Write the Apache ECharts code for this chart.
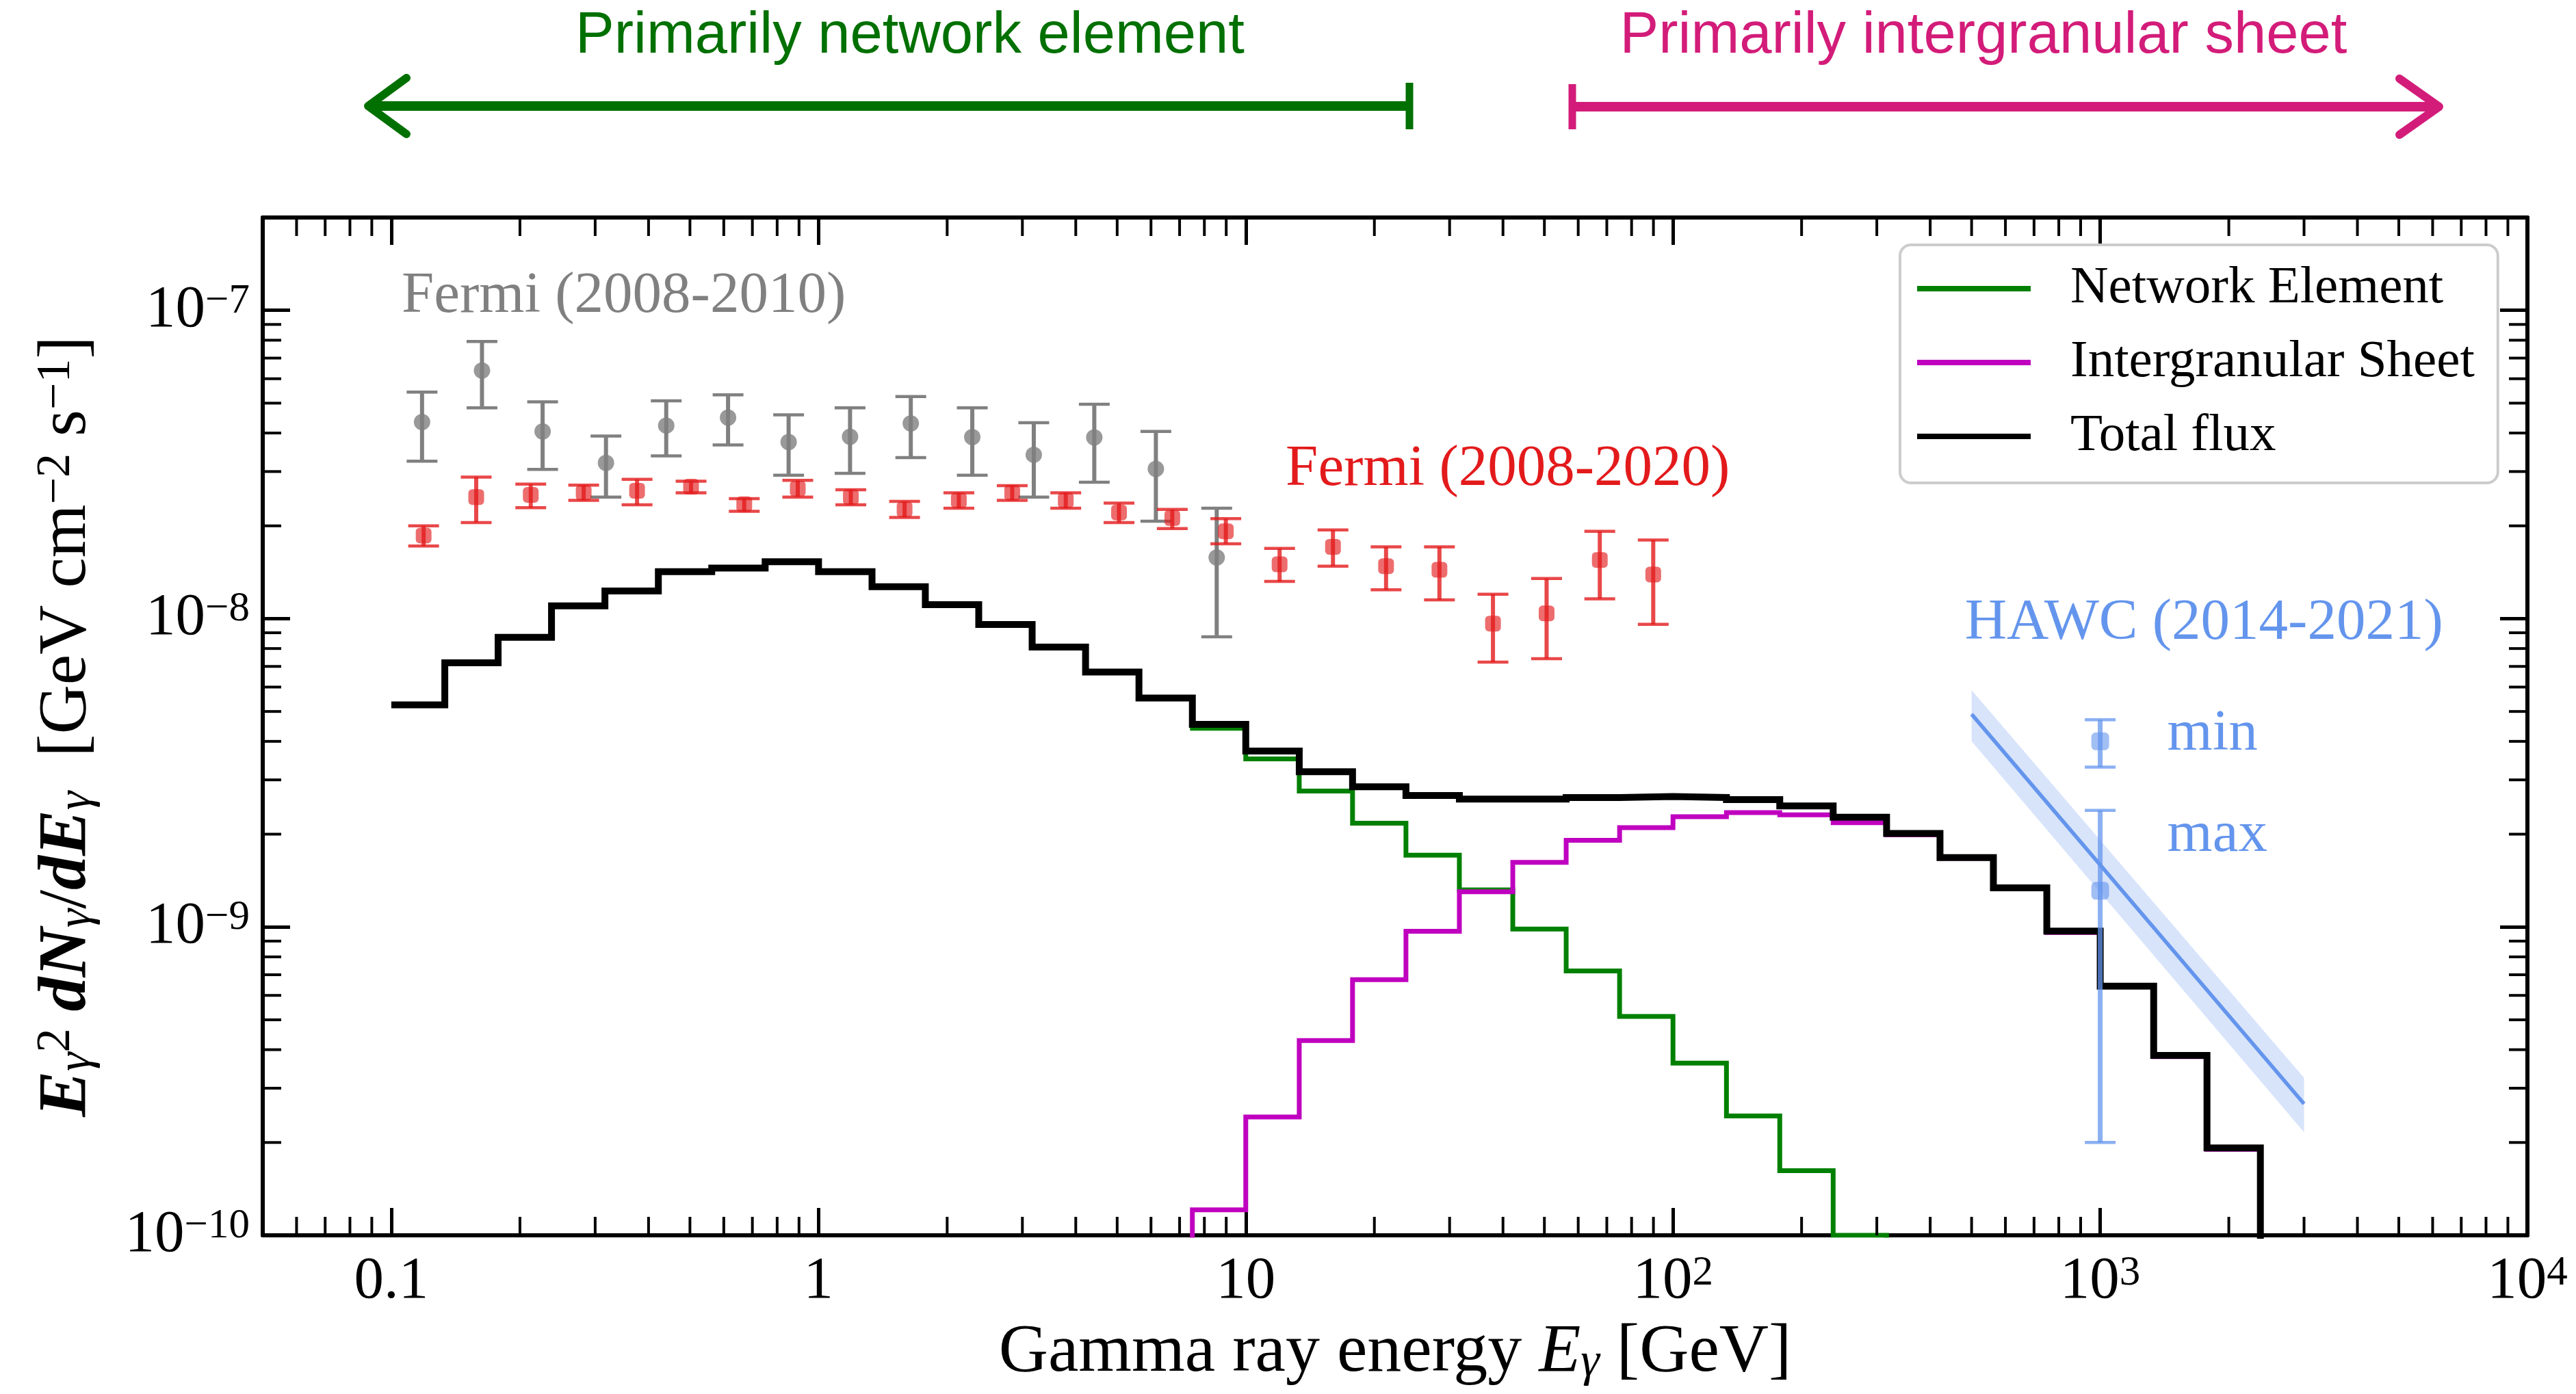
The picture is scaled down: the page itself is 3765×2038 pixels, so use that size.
<!DOCTYPE html>
<html>
<head>
<meta charset="utf-8">
<script src="https://cdn.jsdelivr.net/npm/echarts@6/dist/echarts.min.js"></script>
<style>
  html, body { margin: 0; padding: 0; background: #ffffff; }
  #chart { width: 3765px; height: 2038px; }
</style>
</head>
<body>
<div id="chart"></div>
<script>
// ---------------------------------------------------------------------------
// Data
// ---------------------------------------------------------------------------

// Histogram bin edges in GeV (eight bins per decade)
const binEdges = [
  0.1, 0.1334, 0.1778, 0.2371, 0.3162, 0.4217, 0.5623, 0.7499,
  1, 1.334, 1.778, 2.371, 3.162, 4.217, 5.623, 7.499,
  10, 13.34, 17.78, 23.71, 31.62, 42.17, 56.23, 74.99,
  100, 133.4, 177.8, 237.1, 316.2, 421.7, 562.3, 749.9,
  1000, 1334, 1778, 2371, 3162
];

// E^2 dN/dE per bin [GeV cm^-2 s^-1]
const totalFlux = [
  5.25e-9, 7.19e-9, 8.7e-9, 1.10e-8, 1.23e-8, 1.42e-8, 1.46e-8, 1.53e-8,
  1.42e-8, 1.27e-8, 1.11e-8, 9.57e-9, 8.09e-9, 6.71e-9, 5.53e-9, 4.54e-9,
  3.72e-9, 3.19e-9, 2.85e-9, 2.67e-9, 2.60e-9, 2.60e-9, 2.63e-9, 2.65e-9,
  2.63e-9, 2.59e-9, 2.47e-9, 2.27e-9, 2.01e-9, 1.68e-9, 1.34e-9, 9.7e-10,
  6.43e-10, 3.83e-10, 1.92e-10, 6e-11
];
const networkFlux = [
  5.25e-9, 7.19e-9, 8.7e-9, 1.10e-8, 1.23e-8, 1.42e-8, 1.46e-8, 1.53e-8,
  1.42e-8, 1.27e-8, 1.11e-8, 9.57e-9, 8.09e-9, 6.71e-9, 5.53e-9, 4.41e-9,
  3.51e-9, 2.76e-9, 2.17e-9, 1.71e-9, 1.32e-9, 9.85e-10, 7.2e-10, 5.13e-10,
  3.62e-10, 2.44e-10, 1.62e-10, 1.0e-10, 4e-11
];
const sheetFlux = [
  null, null, null, null, null, null, null, null,
  null, null, null, null, null, null, 5e-11, 1.21e-10,
  2.42e-10, 4.28e-10, 6.75e-10, 9.68e-10, 1.30e-9, 1.62e-9, 1.91e-9, 2.10e-9,
  2.28e-9, 2.35e-9, 2.31e-9, 2.18e-9, 1.99e-9, 1.67e-9, 1.33e-9, 9.6e-10,
  6.4e-10, 3.8e-10, 1.9e-10, 6e-11
];

// Fermi-LAT 2008-2010
const fermi10E    = [0.118, 0.163, 0.226, 0.318, 0.440, 0.614, 0.851, 1.185, 1.644, 2.29, 3.19, 4.42, 6.16, 8.55];
const fermi10Flux = [4.34e-8, 6.38e-8, 4.05e-8, 3.20e-8, 4.23e-8, 4.49e-8, 3.74e-8, 3.89e-8, 4.30e-8, 3.88e-8, 3.40e-8, 3.87e-8, 3.06e-8, 1.58e-8];
const fermi10Lo   = [3.24e-8, 4.83e-8, 3.05e-8, 2.48e-8, 3.37e-8, 3.66e-8, 2.92e-8, 2.96e-8, 3.33e-8, 2.92e-8, 2.48e-8, 2.77e-8, 2.07e-8, 8.73e-9];
const fermi10Hi   = [5.43e-8, 7.92e-8, 5.05e-8, 3.91e-8, 5.09e-8, 5.32e-8, 4.58e-8, 4.83e-8, 5.25e-8, 4.83e-8, 4.32e-8, 4.96e-8, 4.05e-8, 2.28e-8];

// Fermi-LAT 2008-2020
const fermi20E    = [0.119, 0.158, 0.212, 0.282, 0.376, 0.503, 0.670, 0.894, 1.19, 1.59, 2.13, 2.84,
                     3.79, 5.05, 6.73, 8.98, 12.0, 16.0, 21.3, 28.4, 37.9, 50.6, 67.4, 89.9];
const fermi20Flux = [1.86e-8, 2.48e-8, 2.52e-8, 2.56e-8, 2.60e-8, 2.68e-8, 2.35e-8, 2.64e-8, 2.48e-8, 2.26e-8, 2.42e-8, 2.56e-8,
                     2.42e-8, 2.21e-8, 2.12e-8, 1.92e-8, 1.50e-8, 1.71e-8, 1.48e-8, 1.44e-8, 9.64e-9, 1.04e-8, 1.55e-8, 1.39e-8];
const fermi20Lo   = [1.72e-8, 2.05e-8, 2.29e-8, 2.42e-8, 2.34e-8, 2.56e-8, 2.23e-8, 2.48e-8, 2.34e-8, 2.13e-8, 2.28e-8, 2.42e-8,
                     2.28e-8, 2.05e-8, 1.96e-8, 1.75e-8, 1.32e-8, 1.48e-8, 1.24e-8, 1.15e-8, 7.23e-9, 7.42e-9, 1.16e-8, 9.58e-9];
const fermi20Hi   = [2.00e-8, 2.88e-8, 2.73e-8, 2.71e-8, 2.83e-8, 2.79e-8, 2.45e-8, 2.81e-8, 2.62e-8, 2.40e-8, 2.56e-8, 2.70e-8,
                     2.56e-8, 2.37e-8, 2.26e-8, 2.11e-8, 1.69e-8, 1.94e-8, 1.71e-8, 1.71e-8, 1.20e-8, 1.35e-8, 1.92e-8, 1.80e-8];

// HAWC 2014-2021: two flux points at 1 TeV and the power-law fit with its band
const hawcE      = [1000, 1000];
const hawcFlux   = [4.0e-9, 1.31e-9];
const hawcLo     = [3.30e-9, 2.0e-10];
const hawcHi     = [4.70e-9, 2.39e-9];
const hawcNames  = ['min', 'max'];
const hawcFitE    = [500, 3000];
const hawcFitFlux = [4.9e-9, 2.67e-10];
const hawcFitLo   = [4.0e-9, 2.16e-10];
const hawcFitHi   = [5.86e-9, 3.24e-10];

// Axis ranges and tick labels
const xRange = [0.05, 1e4];
const yRange = [1e-10, 2e-7];
const xTickValues = [0.1, 1, 10, 100, 1000, 10000];
const xTickLabels = ['0.1', '1', '10', '10^2', '10^3', '10^4'];
const yTickValues = [1e-10, 1e-9, 1e-8, 1e-7];
const yTickLabels = ['10^-10', '10^-9', '10^-8', '10^-7'];

// ---------------------------------------------------------------------------
// Styling helpers
// ---------------------------------------------------------------------------
const SERIF = '"Liberation Serif", "Times New Roman", serif';
const SANS = '"Liberation Sans", Arial, sans-serif';
const GREY = '#808080';
const RED = 'rgba(227,26,28,0.8)';
const BLUE = 'rgba(100,149,237,0.75)';
const BLUE_SOLID = '#6495ED';

function texLabel(s) {
  const parts = s.split('^');
  if (parts.length === 1) return '{b|' + s + '}';
  return '{b|' + parts[0] + '}{sup|' + parts[1].replace('-', '\u2212') + '}';
}
function tickFormatter(values, labels) {
  return function (v) {
    const lv = Math.log10(v);
    for (let i = 0; i < values.length; i++) {
      if (Math.abs(lv - Math.log10(values[i])) < 1e-6) return texLabel(labels[i]);
    }
    return '';
  };
}
const tickRich = {
  b: { fontFamily: SERIF, fontSize: 87, lineHeight: 87, color: '#000' },
  sup: { fontFamily: SERIF, fontSize: 61, lineHeight: 61, verticalAlign: 'top', color: '#000' }
};
const nameRich = {
  r: { fontFamily: SERIF, fontSize: 100, lineHeight: 100, color: '#000' },
  i: { fontFamily: SERIF, fontSize: 100, lineHeight: 100, fontStyle: 'italic', color: '#000' },
  bi: { fontFamily: SERIF, fontSize: 100, lineHeight: 100, fontStyle: 'italic', fontWeight: 'bold', color: '#000' },
  sub: { fontFamily: SERIF, fontSize: 70, lineHeight: 44, fontStyle: 'italic', verticalAlign: 'bottom', color: '#000' },
  sup: { fontFamily: SERIF, fontSize: 70, lineHeight: 70, verticalAlign: 'top', color: '#000' }
};

// step data: each bin value starts at its left edge
function stepData(values) {
  const out = [];
  values.forEach(function (v, i) { if (v != null) out.push([binEdges[i], v]); });
  return out;
}

// vertical error bar with caps
function errorBarRenderer(color, lineW, capW, capHalf) {
  return function (params, api) {
    const x = api.value(0);
    const lo = api.coord([x, api.value(1)]);
    const hi = api.coord([x, api.value(2)]);
    const capStyle = { stroke: color, lineWidth: capW, fill: null };
    return {
      type: 'group',
      children: [
        { type: 'line', shape: { x1: hi[0], y1: hi[1], x2: lo[0], y2: lo[1] }, style: { stroke: color, lineWidth: lineW, fill: null } },
        { type: 'line', shape: { x1: hi[0] - capHalf, y1: hi[1], x2: hi[0] + capHalf, y2: hi[1] }, style: capStyle },
        { type: 'line', shape: { x1: lo[0] - capHalf, y1: lo[1], x2: lo[0] + capHalf, y2: lo[1] }, style: capStyle }
      ]
    };
  };
}
function errorData(xs, lo, hi) {
  return xs.map(function (x, i) { return [x, lo[i], hi[i]]; });
}

// minor ticks (2..9 per decade) on all four sides
const xMinor = [];
const yMinor = [];
for (let k = -2; k <= 3; k++) {
  for (let m = 2; m <= 9; m++) {
    const v = m * Math.pow(10, k);
    if (v > xRange[0] * 1.0001 && v < xRange[1]) xMinor.push(v);
  }
}
for (let k = -10; k <= -7; k++) {
  for (let m = 2; m <= 9; m++) {
    const v = m * Math.pow(10, k);
    if (v > yRange[0] && v < yRange[1] * 0.9999) yMinor.push(v);
  }
}
const MINOR_LEN = 27;
const MINOR_W = 4;

const majorTick = { show: true, inside: true, length: 40, lineStyle: { color: '#000', width: 5 } };
const axisLine = { show: true, onZero: false, lineStyle: { color: '#000', width: 6 } };

// ---------------------------------------------------------------------------
// Chart
// ---------------------------------------------------------------------------
const chart = echarts.init(document.getElementById('chart'), null, { renderer: 'canvas' });

const option = {
  animation: false,
  backgroundColor: '#ffffff',
  grid: { left: 384, right: 71, top: 318, bottom: 232, containLabel: false, outerBoundsMode: 'none' },
  xAxis: [
    {
      type: 'log', logBase: 10, min: xRange[0], max: xRange[1], position: 'bottom',
      axisLine: axisLine, axisTick: majorTick, splitLine: { show: false }, minorTick: { show: false },
      axisLabel: {
        show: true, margin: 25, showMinLabel: true, showMaxLabel: true, hideOverlap: false,
        formatter: tickFormatter(xTickValues, xTickLabels), rich: tickRich,
        fontFamily: SERIF, fontSize: 87, color: '#000'
      },
      name: '{r|Gamma ray energy }{i|E}{sub|\u03b3}{r| [GeV]}',
      nameLocation: 'middle', nameGap: 122,
      nameTextStyle: { fontFamily: SERIF, fontSize: 100, color: '#000', rich: nameRich }
    },
    {
      type: 'log', logBase: 10, min: xRange[0], max: xRange[1], position: 'top',
      axisLine: axisLine, axisTick: majorTick, splitLine: { show: false },
      axisLabel: { show: false }
    }
  ],
  yAxis: [
    {
      type: 'log', logBase: 10, min: yRange[0], max: yRange[1], position: 'left',
      axisLine: axisLine, axisTick: majorTick, splitLine: { show: false }, minorTick: { show: false },
      axisLabel: {
        show: true, margin: 19, showMinLabel: true, showMaxLabel: true, hideOverlap: false,
        formatter: tickFormatter(yTickValues, yTickLabels), rich: tickRich,
        fontFamily: SERIF, fontSize: 87, color: '#000'
      },
      name: '{bi|E}{sub|\u03b3}{sup|2}{r| }{bi|dN}{sub|\u03b3}{r|/}{bi|dE}{sub|\u03b3}{r|  [GeV cm}{sup|\u22122}{r| s}{sup|\u22121}{r|]}',
      nameLocation: 'middle', nameGap: 236, nameRotate: 90,
      nameTextStyle: { fontFamily: SERIF, fontSize: 100, color: '#000', rich: nameRich }
    },
    {
      type: 'log', logBase: 10, min: yRange[0], max: yRange[1], position: 'right',
      axisLine: axisLine, axisTick: majorTick, splitLine: { show: false },
      axisLabel: { show: false }
    }
  ],
  legend: {
    orient: 'vertical', left: 2777, top: 358,
    itemWidth: 166, itemHeight: 8, itemGap: 12,
    padding: [16, 34, 20, 25],
    borderColor: '#cccccc', borderWidth: 4, borderRadius: 16,
    backgroundColor: 'rgba(255,255,255,0.8)',
    selectedMode: false,
    textStyle: { fontFamily: SERIF, fontSize: 77, lineHeight: 80, color: '#000', padding: [16, 0, 0, 53] },
    data: [
      { name: 'Network Element', icon: 'rect' },
      { name: 'Intergranular Sheet', icon: 'rect' },
      { name: 'Total flux', icon: 'rect', itemStyle: { color: '#000' } }
    ]
  },
  series: [
    {
      name: 'HAWC band', type: 'custom', coordinateSystem: 'cartesian2d', clip: true, z: 2,
      data: hawcFitE.slice(0, -1).map(function (e, i) {
        return [e, hawcFitLo[i], hawcFitHi[i], hawcFitE[i + 1], hawcFitLo[i + 1], hawcFitHi[i + 1]];
      }),
      encode: { x: [0, 3], y: [1, 2, 4, 5] },
      renderItem: function (params, api) {
        const a = api.coord([api.value(0), api.value(2)]);
        const b = api.coord([api.value(3), api.value(5)]);
        const c = api.coord([api.value(3), api.value(4)]);
        const d = api.coord([api.value(0), api.value(1)]);
        return { type: 'polygon', shape: { points: [a, b, c, d] }, style: { fill: 'rgba(100,149,237,0.25)', stroke: null } };
      }
    },
    {
      name: 'Network Element', type: 'line', step: 'end', symbol: 'none', z: 3,
      color: '#008000',
      lineStyle: { color: '#008000', width: 7, join: 'miter', cap: 'butt' },
      data: stepData(networkFlux)
    },
    {
      name: 'Intergranular Sheet', type: 'line', step: 'end', symbol: 'none', z: 3,
      color: '#BF00BF',
      lineStyle: { color: '#BF00BF', width: 7, join: 'miter', cap: 'butt' },
      data: stepData(sheetFlux)
    },
    {
      name: 'Total flux', type: 'line', step: 'end', symbol: 'none', z: 4,
      color: '#000000',
      lineStyle: { color: '#000000', width: 10, join: 'miter', cap: 'butt' },
      data: stepData(totalFlux)
    },
    {
      name: 'Fermi 2008-2010 errors', type: 'custom', coordinateSystem: 'cartesian2d', z: 5,
      data: errorData(fermi10E, fermi10Lo, fermi10Hi), encode: { x: 0, y: [1, 2] },
      renderItem: errorBarRenderer(GREY, 6, 4.5, 22.5)
    },
    {
      name: 'Fermi (2008-2010)', type: 'scatter', symbol: 'circle', symbolSize: 24, z: 6,
      itemStyle: { color: GREY },
      data: fermi10E.map(function (x, i) { return [x, fermi10Flux[i]]; })
    },
    {
      name: 'Fermi 2008-2020 errors', type: 'custom', coordinateSystem: 'cartesian2d', z: 5,
      data: errorData(fermi20E, fermi20Lo, fermi20Hi), encode: { x: 0, y: [1, 2] },
      renderItem: errorBarRenderer(RED, 6, 4.5, 22.5)
    },
    {
      name: 'Fermi (2008-2020)', type: 'scatter', symbol: 'roundRect', symbolSize: 23, z: 6,
      itemStyle: { color: RED },
      data: fermi20E.map(function (x, i) { return [x, fermi20Flux[i]]; })
    },
    {
      name: 'HAWC fit', type: 'line', symbol: 'none', z: 7,
      lineStyle: { color: BLUE_SOLID, width: 5.5 },
      data: hawcFitE.map(function (x, i) { return [x, hawcFitFlux[i]]; })
    },
    {
      name: 'HAWC errors', type: 'custom', coordinateSystem: 'cartesian2d', z: 7,
      data: errorData(hawcE, hawcLo, hawcHi), encode: { x: 0, y: [1, 2] },
      renderItem: errorBarRenderer(BLUE, 7, 4.5, 22.5)
    },
    {
      name: 'HAWC (2014-2021)', type: 'scatter', symbol: 'roundRect', symbolSize: 26, z: 8,
      itemStyle: { color: BLUE },
      data: hawcE.map(function (x, i) { return { name: hawcNames[i], value: [x, hawcFlux[i]] }; })
    },
    {
      name: 'minor x ticks', type: 'custom', coordinateSystem: 'cartesian2d', z: 9, silent: true,
      data: xMinor.map(function (v) { return [v, yRange[0]]; }), encode: { x: 0, y: 1 },
      renderItem: function (params, api) {
        const cs = params.coordSys;
        const x = api.coord([api.value(0), yRange[0]])[0];
        const st = { stroke: '#000', lineWidth: MINOR_W };
        return { type: 'group', children: [
          { type: 'line', shape: { x1: x, y1: cs.y + cs.height, x2: x, y2: cs.y + cs.height - MINOR_LEN }, style: st },
          { type: 'line', shape: { x1: x, y1: cs.y, x2: x, y2: cs.y + MINOR_LEN }, style: st }
        ] };
      }
    },
    {
      name: 'minor y ticks', type: 'custom', coordinateSystem: 'cartesian2d', z: 9, silent: true,
      data: yMinor.map(function (v) { return [xRange[0], v]; }), encode: { x: 0, y: 1 },
      renderItem: function (params, api) {
        const cs = params.coordSys;
        const y = api.coord([xRange[0], api.value(1)])[1];
        const st = { stroke: '#000', lineWidth: MINOR_W };
        return { type: 'group', children: [
          { type: 'line', shape: { x1: cs.x, y1: y, x2: cs.x + MINOR_LEN, y2: y }, style: st },
          { type: 'line', shape: { x1: cs.x + cs.width, y1: y, x2: cs.x + cs.width - MINOR_LEN, y2: y }, style: st }
        ] };
      }
    }
  ]
};
chart.setOption(option);

// ---------------------------------------------------------------------------
// Annotations: dataset labels (placed in data coordinates) and the two
// region arrows above the axes
// ---------------------------------------------------------------------------
const notes = [
  { text: 'Fermi (2008-2010)', at: [0.1057, 9.70e-8], color: GREY },
  { text: 'Fermi (2008-2020)', at: [12.4, 2.66e-8], color: '#E31A1C' },
  { text: 'HAWC (2014-2021)', at: [482, 8.45e-9], color: BLUE_SOLID },
  { text: 'min', at: [1435, 3.70e-9], color: BLUE_SOLID },
  { text: 'max', at: [1435, 1.73e-9], color: BLUE_SOLID }
];
const NOTE_SIZE = 85;
const graphics = notes.map(function (n) {
  const p = chart.convertToPixel({ xAxisIndex: 0, yAxisIndex: 0 }, n.at);
  return {
    type: 'text', z: 20, silent: true,
    style: {
      text: n.text, x: p[0], y: p[1] - 0.305 * NOTE_SIZE,
      fontFamily: SERIF, fontSize: NOTE_SIZE, fill: n.color,
      align: 'left', verticalAlign: 'middle'
    }
  };
});

const NET_GREEN = '#007000';
const SHEET_PINK = '#D31C79';
const TOP_SIZE = 85;
function arrowParts(color, x0, x1, y, leftHead, rightHead) {
  const parts = [];
  parts.push({ type: 'line', silent: true, shape: { x1: x0, y1: y, x2: x1, y2: y }, style: { stroke: color, lineWidth: 14, lineCap: 'butt' } });
  if (leftHead === 'arrow') {
    parts.push({ type: 'polyline', silent: true, shape: { points: [[x0 + 56, y - 41], [x0, y], [x0 + 56, y + 41]] },
      style: { stroke: color, lineWidth: 12, fill: null, lineJoin: 'round', lineCap: 'round' } });
  } else {
    parts.push({ type: 'line', silent: true, shape: { x1: x0, y1: y - 33, x2: x0, y2: y + 33 }, style: { stroke: color, lineWidth: 11 } });
  }
  if (rightHead === 'arrow') {
    parts.push({ type: 'polyline', silent: true, shape: { points: [[x1 - 58, y - 41], [x1, y], [x1 - 58, y + 41]] },
      style: { stroke: color, lineWidth: 12, fill: null, lineJoin: 'round', lineCap: 'round' } });
  } else {
    parts.push({ type: 'line', silent: true, shape: { x1: x1, y1: y - 34, x2: x1, y2: y + 34 }, style: { stroke: color, lineWidth: 11 } });
  }
  return parts;
}
graphics.push(
  { type: 'text', silent: true, style: { text: 'Primarily network element', x: 1330, y: 80 - 0.31 * TOP_SIZE,
      fontFamily: SANS, fontSize: TOP_SIZE, fill: NET_GREEN, align: 'center', verticalAlign: 'middle' } },
  { type: 'text', silent: true, style: { text: 'Primarily intergranular sheet', x: 2899, y: 80 - 0.31 * TOP_SIZE,
      fontFamily: SANS, fontSize: TOP_SIZE, fill: SHEET_PINK, align: 'center', verticalAlign: 'middle' } }
);
arrowParts(NET_GREEN, 538, 2060, 155, 'arrow', 'bar').forEach(function (g) { graphics.push(g); });
arrowParts(SHEET_PINK, 2298, 3565, 156, 'bar', 'arrow').forEach(function (g) { graphics.push(g); });

chart.setOption({ graphic: graphics });
</script>
</body>
</html>
